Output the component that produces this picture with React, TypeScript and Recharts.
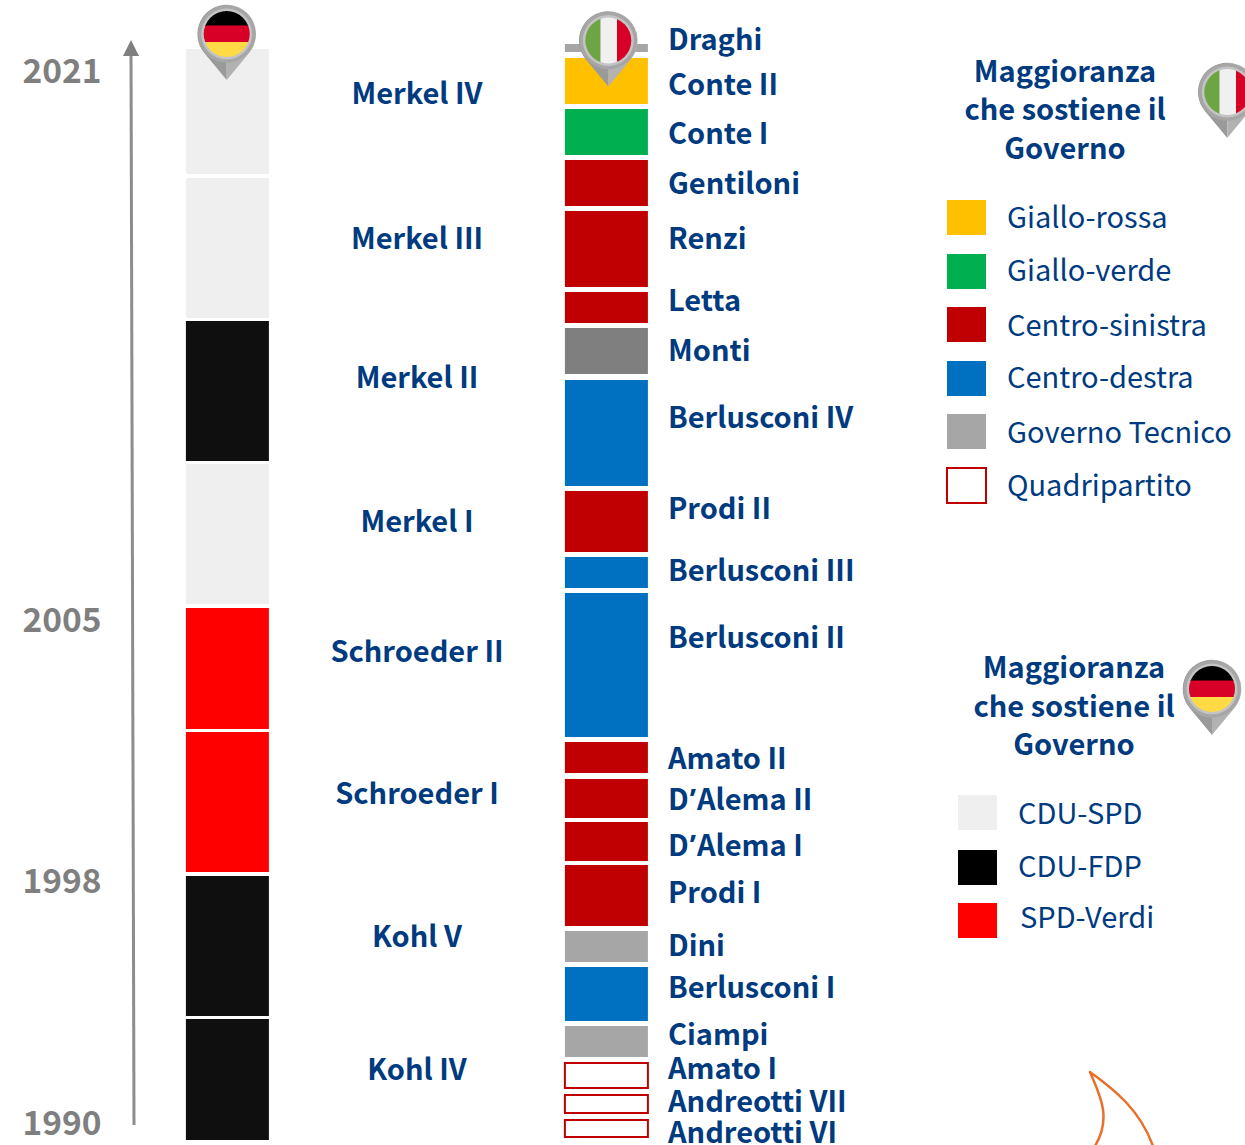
import React from "react";
import { Bar, ComposedChart, Scatter, XAxis, YAxis } from "recharts";

const WIDTH = 1245;
const HEIGHT = 1145;
const FONT = '"Noto Sans CJK SC", "Noto Sans", sans-serif';
const NAVY = "#003A7F";
const GREY_TEXT = "#7F7F7F";
const TEXT_SIZE = 29;

const C_GIALLOROSSA = "#FFC000";
const C_GIALLOVERDE = "#00B050";
const C_SINISTRA = "#C00000";
const C_DESTRA = "#0070C0";
const C_TECNICO = "#A6A6A6";
const C_MONTI = "#7F7F7F";
const C_QUADRI = "#FFFFFF";
const C_GROSSE = "#EFEFEF";
const C_CDU_FDP = "#0F0F0F";
const C_SPD_VERDI = "#FF0000";

// Positions on the timeline: the vertical axis runs downward, from 2021 to 1990.
const germanCabinets = ["Merkel IV", "Merkel III", "Merkel II", "Merkel I", "Schroeder II", "Schroeder I", "Kohl V", "Kohl IV"];
const germanStart = [49, 178, 321, 464, 608, 732, 876, 1019];
const germanEnd = [174, 318, 461, 604, 729, 872, 1016, 1140];
const germanFill = [C_GROSSE, C_GROSSE, C_CDU_FDP, C_GROSSE, C_SPD_VERDI, C_SPD_VERDI, C_CDU_FDP, C_CDU_FDP];
const germanLabelY = [104, 249, 388, 532, 662, 804, 947, 1080];

const italianCabinets = [
  "Draghi", "Conte II", "Conte I", "Gentiloni", "Renzi", "Letta", "Monti", "Berlusconi IV", "Prodi II",
  "Berlusconi III", "Berlusconi II", "Amato II", "D’Alema II", "D’Alema I", "Prodi I", "Dini",
  "Berlusconi I", "Ciampi", "Amato I", "Andreotti VII", "Andreotti VI",
];
const italianStart = [44, 58, 109, 160, 211, 292, 328, 380, 491, 557, 593, 742, 779, 822, 865, 931, 967, 1026, 1063, 1095, 1120];
const italianEnd = [52, 104, 155, 206, 287, 323, 374, 486, 552, 588, 737, 773, 818, 861, 926, 962, 1021, 1057, 1088, 1113, 1137];
const italianFill = [
  C_TECNICO, C_GIALLOROSSA, C_GIALLOVERDE, C_SINISTRA, C_SINISTRA, C_SINISTRA, C_MONTI, C_DESTRA, C_SINISTRA,
  C_DESTRA, C_DESTRA, C_SINISTRA, C_SINISTRA, C_SINISTRA, C_SINISTRA, C_TECNICO,
  C_DESTRA, C_TECNICO, C_QUADRI, C_QUADRI, C_QUADRI,
];
const italianLabelY = [50, 95, 144, 194, 249, 311, 361, 428, 519, 581, 648, 769, 810, 856, 903, 956, 998, 1045, 1079, 1112, 1143];

const yearLabels = ["2021", "2005", "1998", "1990"];
const yearLabelY = [83, 632, 893, 1135];

const GERMAN_X = 227.5;
const ITALIAN_X = 606.5;
const BAR_WIDTH = 83;

const segments = [
  ...germanCabinets.map((name, i) => ({ name, x: GERMAN_X, span: [germanStart[i], germanEnd[i]], fill: germanFill[i] })),
  ...italianCabinets.map((name, i) => ({ name, x: ITALIAN_X, span: [italianStart[i], italianEnd[i]], fill: italianFill[i] })),
];

const labels = [
  ...germanCabinets.map((text, i) => ({ text, x: 417, y: germanLabelY[i], anchor: "middle", fill: NAVY, size: TEXT_SIZE })),
  ...italianCabinets.map((text, i) => ({ text, x: 668, y: italianLabelY[i], anchor: "start", fill: NAVY, size: TEXT_SIZE })),
  ...yearLabels.map((text, i) => ({ text, x: 62, y: yearLabelY[i], anchor: "middle", fill: GREY_TEXT, size: 33.5 })),
];

const italyLegend = ["Giallo-rossa", "Giallo-verde", "Centro-sinistra", "Centro-destra", "Governo Tecnico", "Quadripartito"];
const italyLegendFill = [C_GIALLOROSSA, C_GIALLOVERDE, C_SINISTRA, C_DESTRA, C_TECNICO, C_QUADRI];
const italyLegendTop = [200, 254, 307, 361, 414, 468];
const italyLegendBaseline = [228, 281, 336, 388, 443, 496];

const germanyLegend = ["CDU-SPD", "CDU-FDP", "SPD-Verdi"];
const germanyLegendFill = [C_GROSSE, "#000000", C_SPD_VERDI];
const germanyLegendTop = [795, 850, 903];
const germanyLegendBaseline = [824, 877, 928];
const germanyLegendX = [1018, 1018, 1020];

const titleLines = ["Maggioranza", "che sostiene il", "Governo"];

// The CJK face sets the curly apostrophe full-width, so it gets a Latin face.
function withApostrophe(text: string) {
  const parts = text.split("’");
  if (parts.length === 1) return text;
  return (
    <>
      {parts[0]}
      <tspan fontFamily='"Noto Sans", sans-serif' dx={1}>’</tspan>
      <tspan dx={1}>{parts[1]}</tspan>
    </>
  );
}

function CabinetLabel(props: any) {
  const { cx, cy, payload } = props;
  return (
    <text x={cx} y={cy} textAnchor={payload.anchor} fill={payload.fill} fontFamily={FONT} fontWeight={700} fontSize={payload.size}>
      {withApostrophe(payload.text)}
    </text>
  );
}

// Every segment has the same fixed column width around its axis position.
function CabinetBar(props: any) {
  const { x, y, width, height, payload } = props;
  const outlined = payload.fill === C_QUADRI;
  return (
    <rect
      x={x + width / 2 - BAR_WIDTH / 2}
      y={Math.min(y, y + height)}
      width={BAR_WIDTH}
      height={Math.abs(height)}
      fill={payload.fill}
      stroke={outlined ? C_SINISTRA : "none"}
      strokeWidth={outlined ? 2 : 0}
    />
  );
}

// Map pin with a round flag: ring on top of a two-tone tapered body.
function Pin({ cx, cy, id, flag }: { cx: number; cy: number; id: string; flag: "de" | "it" }) {
  const r = 29.3;
  const tip = 46;
  const sin = r / tip;
  const cos = Math.sqrt(1 - sin * sin);
  const tx = r * cos;
  const ty = r * sin;
  return (
    <g transform={`translate(${cx},${cy})`}>
      <path d={`M0,${tip} L${-tx},${ty} A${r},${r} 0 0 1 0,${-r} Z`} fill="#9A9A9A" />
      <path d={`M0,${tip} L${tx},${ty} A${r},${r} 0 0 0 0,${-r} Z`} fill="#B2B2B2" />
      <circle r={r - 0.5} fill="#A6A6A6" />
      <circle r={25.5} fill="#C4C4C4" />
      <clipPath id={id}>
        <circle r={23} />
      </clipPath>
      <g clipPath={`url(#${id})`}>
        {flag === "de" ? (
          <>
            <rect x={-24} y={-24} width={48} height={16} fill="#000000" />
            <rect x={-24} y={-8.5} width={48} height={16.5} fill="#D80027" />
            <rect x={-24} y={8} width={48} height={16} fill="#FFDA44" />
          </>
        ) : (
          <>
            <rect x={-24} y={-24} width={16.3} height={48} fill="#6DA544" />
            <rect x={-7.7} y={-24} width={16.4} height={48} fill="#F0F0F0" />
            <rect x={8.7} y={-24} width={16} height={48} fill="#D80027" />
          </>
        )}
      </g>
    </g>
  );
}

function Legend({ x, swatchTop, fills, names, baselines, labelX, edge }: any) {
  return (
    <>
      {names.map((name: string, i: number) => (
        <g key={name}>
          <rect
            x={x}
            y={swatchTop[i]}
            width={39}
            height={35}
            fill={fills[i]}
            stroke={fills[i] === C_QUADRI ? edge : "none"}
            strokeWidth={2}
          />
          <text x={labelX[i]} y={baselines[i]} fill={NAVY} fontFamily={FONT} fontSize={TEXT_SIZE}>
            {name}
          </text>
        </g>
      ))}
    </>
  );
}

function Title({ x, baselines }: { x: number; baselines: number[] }) {
  return (
    <>
      {titleLines.map((line, i) => (
        <text key={line} x={x} y={baselines[i]} textAnchor="middle" fill={NAVY} fontFamily={FONT} fontWeight={700} fontSize={TEXT_SIZE}>
          {line}
        </text>
      ))}
    </>
  );
}

export default function App() {
  return (
    <div style={{ position: "absolute", left: 0, top: 0, width: WIDTH, height: HEIGHT, overflow: "hidden", background: "#FFFFFF" }}>
      <ComposedChart width={WIDTH} height={HEIGHT} data={segments} margin={{ top: 0, right: 0, bottom: 0, left: 0 }}>
        <XAxis dataKey="x" type="number" domain={[0, WIDTH]} hide allowDataOverflow />
        <YAxis type="number" domain={[0, HEIGHT]} reversed hide allowDataOverflow />
        <Bar dataKey="span" shape={CabinetBar} isAnimationActive={false} />
        <Scatter data={labels} dataKey="y" shape={CabinetLabel} isAnimationActive={false} />
      </ComposedChart>
      <svg width={WIDTH} height={HEIGHT} style={{ position: "absolute", left: 0, top: 0 }}>
        <path d="M131,52 L134,1125" stroke="#8C8C8C" strokeWidth={3} fill="none" />
        <path d="M131,40 L139,56 L123,56 Z" fill="#7F7F7F" />

        <Pin cx={226.7} cy={34} id="pin-de-a" flag="de" />
        <Pin cx={608.3} cy={40.5} id="pin-it-a" flag="it" />
        <Pin cx={1227.3} cy={92} id="pin-it-b" flag="it" />
        <Pin cx={1212} cy={689} id="pin-de-b" flag="de" />

        <Title x={1065} baselines={[82, 120, 159]} />
        <Legend
          x={947}
          swatchTop={italyLegendTop}
          fills={italyLegendFill}
          names={italyLegend}
          baselines={italyLegendBaseline}
          labelX={italyLegend.map(() => 1007)}
          edge={C_SINISTRA}
        />

        <Title x={1074} baselines={[678, 717, 755]} />
        <Legend
          x={958}
          swatchTop={germanyLegendTop}
          fills={germanyLegendFill}
          names={germanyLegend}
          baselines={germanyLegendBaseline}
          labelX={germanyLegendX}
          edge={C_SINISTRA}
        />

        <path
          d="M1090,1072 C1100,1095 1112,1118 1095,1146 M1090,1072 C1115,1090 1140,1110 1153,1146"
          fill="none"
          stroke="#E8702A"
          strokeWidth={2.5}
          strokeLinecap="round"
        />
      </svg>
    </div>
  );
}
